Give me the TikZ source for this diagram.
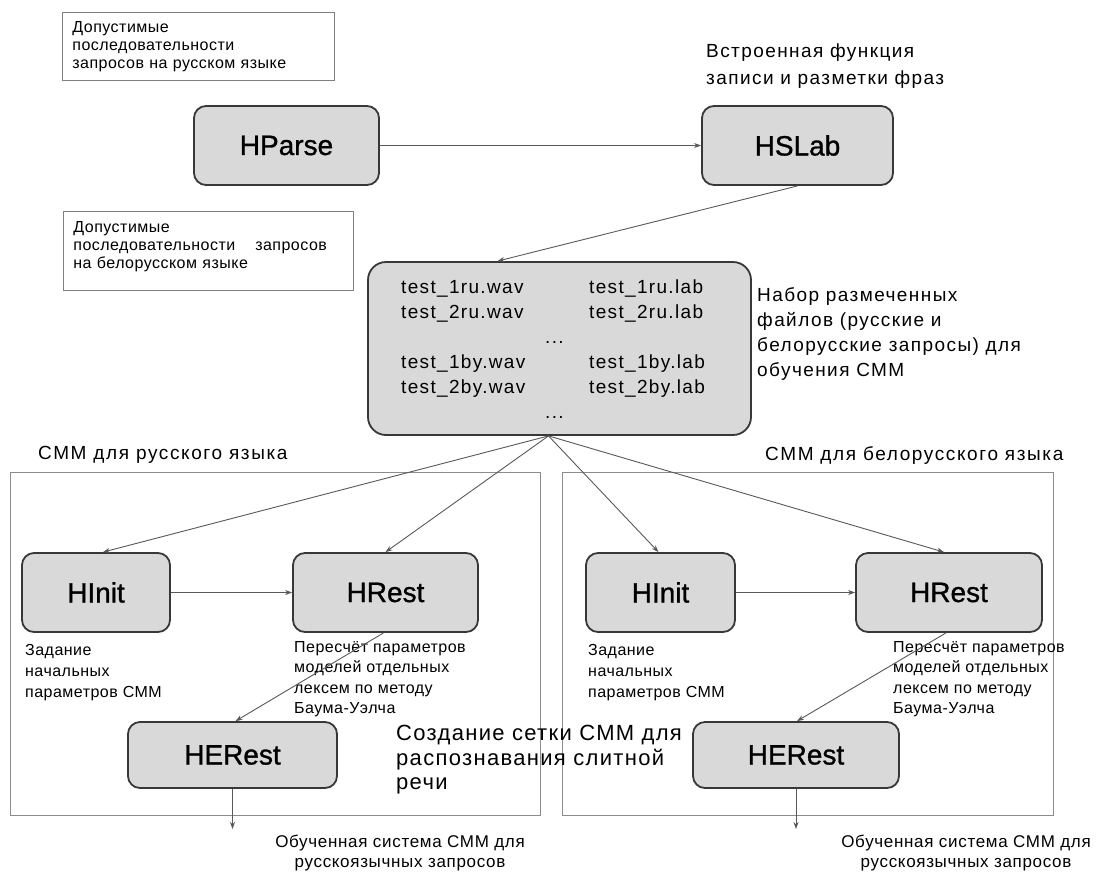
\documentclass[tikz,border=0pt]{standalone}
\usepackage{fontspec}
\setmainfont{Liberation Sans}
\usetikzlibrary{arrows.meta}
\tikzset{
 proc/.style={draw=black!78, line width=1.8pt, fill=black!15, rounded corners=12pt, inner sep=0pt, font=\fontsize{28}{34}\selectfont\addfontfeature{FakeBold=1}},
 note/.style={draw=black!50, line width=0.8pt, anchor=north west, align=left, inner xsep=10pt, inner ysep=0pt, font=\fontsize{16}{18}\selectfont\addfontfeature{LetterSpace=3}},
 txt/.style={anchor=north west, align=left, inner sep=0pt},
 small/.style={txt, font=\fontsize{16}{21}\selectfont\addfontfeature{LetterSpace=3}},
 mid/.style={txt, font=\fontsize{19}{25}\selectfont\addfontfeature{LetterSpace=7.5}},
 ttl/.style={txt, font=\fontsize{19}{25}\selectfont\addfontfeature{LetterSpace=8.5}},
 outtxt/.style={align=center, inner sep=0pt, anchor=north, font=\fontsize{17}{20}\selectfont\addfontfeature{LetterSpace=4}},
 conn/.style={draw=black!65, line width=0.9pt, -{Stealth[length=7pt,width=5pt]}},
 frm/.style={draw=black!45, line width=1pt},
}
\begin{document}
\begin{tikzpicture}[x=1pt,y=-1pt]
\useasboundingbox[fill=white] (0,0) rectangle (1105,873);
% frames
\draw[frm] (10,472) rectangle (540,815);
\draw[frm] (562,472) rectangle (1053,815);
% note boxes
\node[note, text width=252pt, minimum height=68pt] (b1) at (62,12) {Допустимые\\ последовательности\\ запросов на русском языке};
\node[note, text width=270pt, minimum height=79pt, text depth=47pt] (b2) at (63,211) {Допустимые\\ последовательности\hspace{20pt}запросов\\ на белорусском языке};
% process boxes
\node[proc, minimum width=185pt, minimum height=79pt] (hparse) at (286.5,145.5) {HParse};
\node[proc, minimum width=191pt, minimum height=79pt] (hslab) at (797.5,145.5) {HSLab};
\node[mid, font=\fontsize{19}{27}\selectfont\addfontfeature{LetterSpace=7.5}] (tslab) at (706,44) {Встроенная функция\\ записи и разметки фраз};
\node[proc, minimum width=383pt, minimum height=173pt, rounded corners=18pt] (big) at (559.5,348.5) {};
\node[anchor=base west, inner sep=0pt, font=\fontsize{19}{25}\selectfont\addfontfeature{LetterSpace=7}] (files) at (401,293) {%
\begin{tabular}[t]{@{}p{188pt}@{}l@{}}
test\_1ru.wav & test\_1ru.lab\\
test\_2ru.wav & test\_2ru.lab\\
\multicolumn{2}{@{}l@{}}{\hspace{144pt}...}\\
test\_1by.wav & test\_1by.lab\\
test\_2by.wav & test\_2by.lab\\
\multicolumn{2}{@{}l@{}}{\hspace{144pt}...}
\end{tabular}};
\node[mid] (tbig) at (757,287) {Набор размеченных\\ файлов (русские и\\ белорусские запросы) для\\ обучения СММ};
% section titles
\node[ttl] (tru) at (38,446) {СММ для русского языка};
\node[ttl] (tby) at (765,446) {СММ для белорусского языка};
% left group
\node[proc, minimum width=148pt, minimum height=79pt] (hinitL) at (96,592.5) {HInit};
\node[proc, minimum width=185pt, minimum height=79pt] (hrestL) at (385.5,592.5) {HRest};
\node[proc, minimum width=209pt, minimum height=66pt] (herestL) at (232.5,755) {HERest};
\node[small] (tinitL) at (25,644) {Задание\\ начальных\\ параметров СММ};
\node[small, font=\fontsize{16}{20.5}\selectfont\addfontfeature{LetterSpace=3}] (trestL) at (294,641) {Пересчёт параметров\\ моделей отдельных\\ лексем по методу\\ Баума-Уэлча};
% right group
\node[proc, minimum width=149pt, minimum height=79pt] (hinitR) at (660.5,592.5) {HInit};
\node[proc, minimum width=186pt, minimum height=79pt] (hrestR) at (949,592.5) {HRest};
\node[proc, minimum width=206pt, minimum height=66pt] (herestR) at (796,755) {HERest};
\node[small] (tinitR) at (588,644) {Задание\\ начальных\\ параметров СММ};
\node[small, font=\fontsize{16}{20.5}\selectfont\addfontfeature{LetterSpace=3}] (trestR) at (893,641) {Пересчёт параметров\\ моделей отдельных\\ лексем по методу\\ Баума-Уэлча};
% central text
\node[txt, font=\fontsize{22}{24.5}\selectfont\addfontfeature{LetterSpace=6}] (tnet) at (396,725) {Создание сетки СММ для\\ распознавания слитной\\ речи};
% outputs
\coordinate (outL) at (232.5,829);
\coordinate (outR) at (796,829);
\node[outtxt] (toutL) at (400,835) {Обученная система СММ для\\ русскоязычных запросов};
\node[outtxt] (toutR) at (966,835) {Обученная система СММ для\\ русскоязычных запросов};
% connectors
\draw[conn] (hparse) -- (hslab);
\draw[conn] (hslab.south) -- ([xshift=-62pt]big.north);
\draw[conn] ([xshift=-11pt]big.south) -- ([xshift=7pt]hinitL.north);
\draw[conn] ([xshift=-11pt]big.south) -- (hrestL.north);
\draw[conn] ([xshift=-11pt]big.south) -- ([xshift=-2pt]hinitR.north);
\draw[conn] ([xshift=-11pt]big.south) -- ([xshift=-5pt]hrestR.north);
\draw[conn] (hinitL) -- (hrestL);
\draw[conn] (hinitR) -- (hrestR);
\draw[conn] ([xshift=-2pt]hrestL.south) -- ([xshift=3pt]herestL.north);
\draw[conn] ([xshift=-3pt]hrestR.south) -- ([xshift=1pt]herestR.north);
\draw[conn] (herestL) -- (outL);
\draw[conn] (herestR) -- (outR);
\end{tikzpicture}
\end{document}
